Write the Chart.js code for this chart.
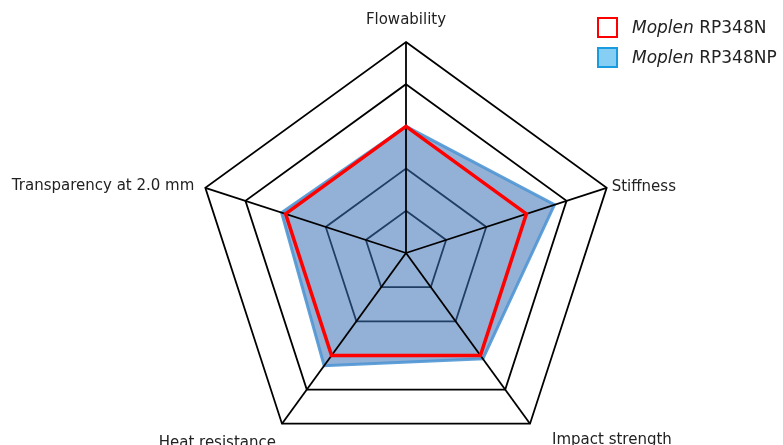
<!DOCTYPE html>
<html>
<head>
<meta charset="utf-8">
<script src="https://cdn.jsdelivr.net/npm/chart.js@4.4.1/dist/chart.umd.min.js"></script>
<style>
html, body { margin: 0; padding: 0; background: #fff; }
#wrap { position: relative; width: 783px; height: 445px; overflow: hidden; }
#myChart { position: absolute; left: 0; top: 0; }
#legend { position: absolute; left: 597px; top: 12px; font: 17px "DejaVu Sans", sans-serif; color: #222; }
#legend .row { display: flex; align-items: center; height: 30px; }
#legend .box { width: 21px; height: 21px; box-sizing: border-box; margin-right: 14px; }
</style>
</head>
<body>
<div id="wrap">
  <canvas id="myChart" width="783" height="470"></canvas>
  <div id="legend">
    <div class="row"><span class="box" style="border:2.5px solid #ff0000;background:#fff"></span><span><i>Moplen</i> RP348N</span></div>
    <div class="row"><span class="box" style="border:2.5px solid #1a9be0;background:#87cef5"></span><span><i>Moplen</i> RP348NP</span></div>
  </div>
</div>
<script>
// properties on the axes (clockwise from top)
var properties = ["Flowability", "Stiffness", "Impact strength", "Heat resistance", "Transparency at 2.0 mm"];
var rp348n = [3.0, 3.0, 3.0, 3.0, 3.0];
var rp348np = [3.0, 3.7, 3.1, 3.3, 3.1];
var ringTicks = [0, 1, 2, 3, 4, 5];

// label placement around the outer vertices
var labelPlace = [
    { align: 'center', dx: 0, dy: -18 },
    { align: 'left', dx: 5, dy: 3 },
    { align: 'left', dx: 22, dy: 20 },
    { align: 'right', dx: -6, dy: 23 },
    { align: 'right', dx: -11, dy: 2 }
];

// angle lines go over the blue fill, under the red line
var spokes = {
    id: 'spokes',
    afterDatasetDraw: function(chart, args) {
        if (args.index !== 1) return;
        var r = chart.scales.r;
        var ctx = chart.ctx;
        ctx.save();
        ctx.strokeStyle = '#000';
        ctx.lineWidth = 1.8;
        for (var i = 0; i < properties.length; i++) {
            var p = r.getPointPosition(i, r.drawingArea);
            ctx.beginPath();
            ctx.moveTo(r.xCenter, r.yCenter);
            ctx.lineTo(p.x, p.y);
            ctx.stroke();
        }
        ctx.restore();
    },
    afterDraw: function(chart) {
        var r = chart.scales.r;
        var ctx = chart.ctx;
        ctx.save();
        ctx.font = '15px "DejaVu Sans", sans-serif';
        ctx.fillStyle = '#222';
        ctx.textBaseline = 'alphabetic';
        for (var i = 0; i < properties.length; i++) {
            var p = r.getPointPosition(i, r.drawingArea);
            ctx.textAlign = labelPlace[i].align;
            ctx.fillText(properties[i], p.x + labelPlace[i].dx, p.y + labelPlace[i].dy);
        }
        ctx.restore();
    }
};

var ctx = document.getElementById('myChart').getContext('2d');
var chart = new Chart(ctx, {
    type: 'radar',
    data: {
        labels: properties,
        datasets: [{
            label: 'Moplen RP348N',
            data: rp348n,
            borderColor: '#ff0000',
            borderWidth: 3.5,
            backgroundColor: 'rgba(0,0,0,0)',
            fill: false,
            pointRadius: 0
        }, {
            label: 'Moplen RP348NP',
            data: rp348np,
            borderColor: 'rgba(80,150,212,0.9)',
            borderWidth: 3,
            backgroundColor: 'rgba(58,111,180,0.55)',
            fill: true,
            pointRadius: 0
        }]
    },
    options: {
        responsive: false,
        animation: false,
        layout: { padding: { top: 42, bottom: 6, left: 29, right: 0 } },
        plugins: {
            legend: { display: false },
            tooltip: { enabled: false }
        },
        scales: {
            r: {
                min: ringTicks[0],
                max: ringTicks[ringTicks.length - 1],
                ticks: { display: false, stepSize: 1 },
                pointLabels: { display: false },
                angleLines: { display: false },
                grid: { color: '#000', lineWidth: 1.8 }
            }
        }
    },
    plugins: [spokes]
});
</script>
</body>
</html>
